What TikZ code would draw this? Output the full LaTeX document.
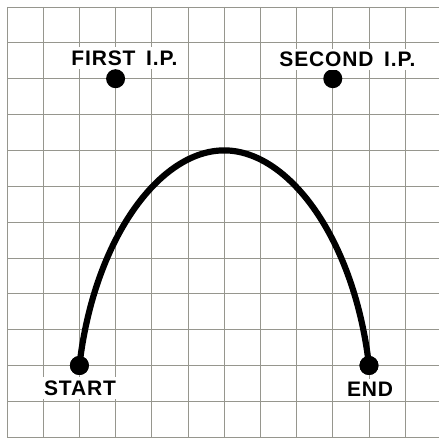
\documentclass[tikz,border=0pt]{standalone}
\usepackage{fontspec}
\newfontfamily\lblfont{Liberation Sans}[LetterSpace=4,WordSpace=1.6]
\definecolor{gridgray}{RGB}{150,150,142}
\begin{document}
\begin{tikzpicture}[x=36.2pt,y=-35.85pt,
  gridline/.style={draw=gridgray, line width=0.75pt},
  dotnode/.style={circle, fill=black, minimum size=19pt, inner sep=0pt},
  lbl/.style={fill=white, inner xsep=2pt, inner ysep=3.5pt, font=\lblfont\bfseries\fontsize{21}{21}\selectfont},
  arcline/.style={draw=black, line width=6.2pt, line cap=round}]
\useasboundingbox[fill=white] (-0.1934,-0.1953) rectangle (11.934,12.022);
% grid
\foreach \i in {0,...,11} \draw[gridline] (\i,0) -- (\i,12.022);
\foreach \j in {0,...,12} \draw[gridline] (0,\j) -- (11.934,\j);
% points
\coordinate (apex) at (6,4);
\node[dotnode] (start) at (2,10) {};
\node[dotnode] (end) at (10,10) {};
\node[dotnode] (first) at (3,2) {};
\node[dotnode] (second) at (9,2) {};
% trajectory
\draw[arcline] (start.center) .. controls (2.4,6.5) and (4.2,4) .. (apex)
  .. controls (7.8,4) and (9.6,6.5) .. (end.center);
\node[dotnode] at (start) {};
\node[dotnode] at (end) {};
% labels
\node[lbl] (lfirst) at (3.246,1.423) {FIRST I.P.};
\node[lbl] (lsecond) at (9.406,1.464) {SECOND I.P.};
\node[lbl] (lstart) at (2.017,10.63) {START};
\node[lbl] (lend) at (10.03,10.67) {END};
\end{tikzpicture}
\end{document}
